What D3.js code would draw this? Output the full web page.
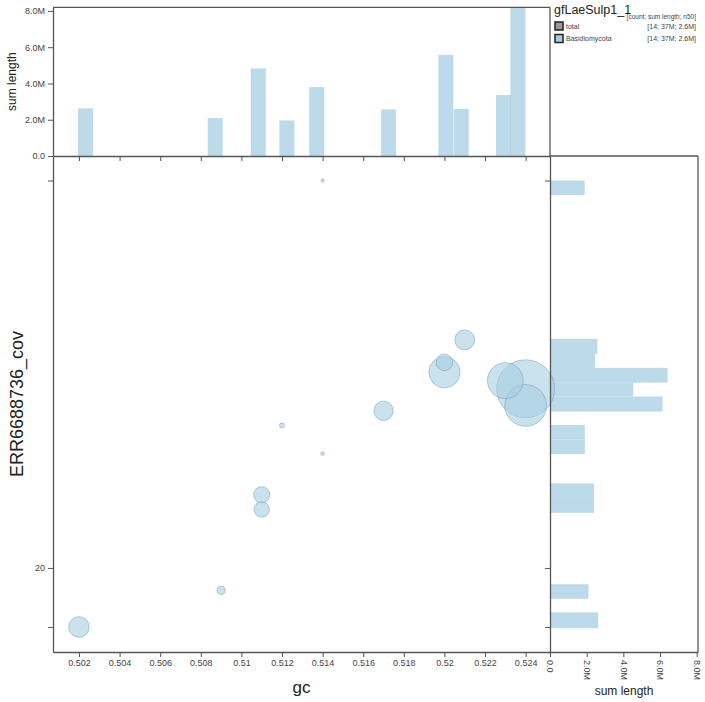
<!DOCTYPE html>
<html><head><meta charset="utf-8">
<script src="https://cdn.jsdelivr.net/npm/d3@7"></script>
<style>
html,body{margin:0;padding:0;background:#fff;}
text{font-family:"Liberation Sans",Arial,sans-serif;}
</style></head>
<body><svg id="c" width="705" height="702"></svg>
<script>
// ---- data ----
const contigGc  = [0.502, 0.509, 0.511, 0.511, 0.512, 0.514, 0.514, 0.517, 0.520, 0.520, 0.521, 0.523, 0.524, 0.524];
const contigCov = [14.5, 17.7, 27.5, 29.8, 43.5, 37.3, 165.2, 47.1, 58.1, 61.3, 69.3, 55.5, 53.1, 48.5];
const contigLen = [2.63, 2.09, 2.40, 2.43, 1.96, 1.90, 1.89, 2.57, 3.13, 2.45, 2.60, 3.36, 4.54, 3.66]; // Mbp

const topBinGc  = [0.50195, 0.50834, 0.51046, 0.51187, 0.51334, 0.51688, 0.51970, 0.52046, 0.52254, 0.52325];
const topBinLen = [2.63, 2.09, 4.83, 1.96, 3.80, 2.57, 5.58, 2.60, 3.36, 8.20];
const topBinWidth = 0.00074;

const rightBinLo  = [152.6, 64.2, 59.5, 54.9, 50.9, 46.9, 40.3, 37.2, 29.3, 27.0, 16.9, 14.4];
const rightBinHi  = [165.2, 69.7, 64.2, 59.5, 54.9, 50.9, 43.6, 40.3, 31.7, 29.3, 18.3, 15.7];
const rightBinLen = [1.89, 2.58, 2.45, 6.41, 4.54, 6.14, 1.90, 1.90, 2.40, 2.40, 2.10, 2.62];

const xTicks = [0.502, 0.504, 0.506, 0.508, 0.510, 0.512, 0.514, 0.516, 0.518, 0.520, 0.522, 0.524];
const yTicks = [14.5, 20, 165.2];
const yTickLabels = ["", "20", ""];
const lenTicks = [0, 2, 4, 6, 8];

const legendTitle = "gfLaeSulp1_1";
const legendHeader = "[count; sum length; n50]";
const legendNames = ["total", "Basidiomycota"];
const legendStats = ["[14; 37M; 2.6M]", "[14; 37M; 2.6M]"];
const legendColors = ["#999999", "#a6cee3"];

// ---- layout ----
const X0 = 53, X1 = 550, Y0 = 156, Y1 = 652, TOP = 7.3, RIGHT = 698;
const blue = "#a6cee3", axisCol = "#555", txtCol = "#444";

const svg = d3.select("#c");
const x = d3.scaleLinear().domain([0.50072, 0.5252]).range([X0, X1]);
const y = d3.scaleLog().domain([12.65, 188.8]).range([Y1, Y0]);
const yTop = d3.scaleLinear().domain([0, 8.2]).range([Y0, TOP]);
const xRight = d3.scaleLinear().domain([0, 8.07]).range([X1, RIGHT]);
const r = d3.scalePow().exponent(0.6).domain([1.88, 4.54]).range([1.5, 29]);
const lenFmt = v => v === 0 ? "0.0" : v.toFixed(1) + "M";

// ---- top histogram ----
svg.append("g").selectAll("rect").data(topBinGc).join("rect")
  .attr("x", d => x(d)).attr("width", (d) => x(d + topBinWidth) - x(d))
  .attr("y", (d, i) => yTop(topBinLen[i])).attr("height", (d, i) => Y0 - yTop(topBinLen[i]))
  .attr("fill", blue).attr("fill-opacity", 0.75);

// ---- right histogram ----
svg.append("g").selectAll("rect").data(rightBinLo).join("rect")
  .attr("x", X1).attr("width", (d, i) => xRight(rightBinLen[i]) - X1)
  .attr("y", (d, i) => y(rightBinHi[i])).attr("height", (d, i) => y(d) - y(rightBinHi[i]))
  .attr("fill", blue).attr("fill-opacity", 0.75);

// ---- scatter ----
const idx = d3.range(contigGc.length).sort((a, b) => contigLen[b] - contigLen[a]);
svg.append("g").selectAll("circle").data(idx).join("circle")
  .attr("cx", i => x(contigGc[i])).attr("cy", i => y(contigCov[i])).attr("r", i => r(contigLen[i]))
  .attr("fill", blue).attr("fill-opacity", 0.6)
  .attr("stroke", "#6f95ad").attr("stroke-opacity", 0.6).attr("stroke-width", 0.8);

// ---- frames ----
const frame = svg.append("g").attr("fill", "none").attr("stroke", axisCol).attr("stroke-width", 1.3);
frame.append("line").attr("x1", X0).attr("x2", X1).attr("y1", TOP).attr("y2", TOP);
frame.append("line").attr("x1", X1).attr("x2", X1).attr("y1", TOP).attr("y2", Y0);
frame.append("line").attr("x1", X1).attr("x2", RIGHT).attr("y1", Y0).attr("y2", Y0);
frame.append("line").attr("x1", RIGHT).attr("x2", RIGHT).attr("y1", Y0).attr("y2", Y1);

function styleAxis(g) {
  g.selectAll(".domain").attr("stroke", axisCol).attr("stroke-width", 1.3);
  g.selectAll(".tick line").attr("stroke", axisCol);
  g.selectAll(".tick text").attr("fill", txtCol).style("font-size", "9px").style("font-family", "Liberation Sans, Arial, sans-serif");
}

// main x axis
svg.append("g").attr("transform", `translate(0,${Y1})`)
  .call(d3.axisBottom(x).tickValues(xTicks).tickFormat(d => String(+d.toFixed(3))).tickSize(5).tickSizeOuter(0))
  .call(styleAxis);
// main y axis
svg.append("g").attr("transform", `translate(${X0},0)`)
  .call(d3.axisLeft(y).tickValues(yTicks).tickFormat((d, i) => yTickLabels[i]).tickSize(5).tickSizeOuter(0))
  .call(styleAxis);
// top histogram axes
svg.append("g").attr("transform", `translate(0,${Y0})`)
  .call(d3.axisBottom(x).tickValues(xTicks).tickFormat("").tickSize(5).tickSizeOuter(0))
  .call(styleAxis);
svg.append("g").attr("transform", `translate(${X0},0)`)
  .call(d3.axisLeft(yTop).tickValues(lenTicks).tickFormat(lenFmt).tickSize(5).tickSizeOuter(0))
  .call(styleAxis);
// right histogram axes
svg.append("g").attr("transform", `translate(${X1},0)`)
  .call(d3.axisLeft(y).tickValues(yTicks).tickFormat("").tickSize(5).tickSizeOuter(0))
  .call(styleAxis);
const rAx = svg.append("g").attr("transform", `translate(0,${Y1})`)
  .call(d3.axisBottom(xRight).tickValues(lenTicks).tickFormat(lenFmt).tickSize(5).tickSizeOuter(0))
  .call(styleAxis);
rAx.selectAll(".tick text").attr("transform", "rotate(90)").attr("text-anchor", "start")
  .attr("x", 8).attr("y", 0).attr("dy", "0.35em");

// ---- titles ----
svg.append("text").attr("x", (X0 + X1) / 2).attr("y", 693).attr("text-anchor", "middle")
  .style("font-size", "17px").attr("fill", "#222").text("gc");
svg.append("text").attr("transform", `translate(23,${(Y0 + Y1) / 2}) rotate(-90)`).attr("text-anchor", "middle")
  .style("font-size", "18px").attr("fill", "#222").text("ERR6688736_cov");
svg.append("text").attr("transform", `translate(16,${(TOP + Y0) / 2}) rotate(-90)`).attr("text-anchor", "middle")
  .style("font-size", "12px").attr("fill", "#222").text("sum length");
svg.append("text").attr("x", (X1 + RIGHT) / 2).attr("y", 695).attr("text-anchor", "middle")
  .style("font-size", "12px").attr("fill", "#222").text("sum length");

// ---- legend ----
const lg = svg.append("g");
lg.append("text").attr("x", 554).attr("y", 14).style("font-size", "12.5px").attr("fill", "#222").text(legendTitle);
lg.append("text").attr("x", 696).attr("y", 18.5).attr("text-anchor", "end").style("font-size", "6.5px").attr("fill", txtCol).text(legendHeader);
legendNames.forEach((n, i) => {
  const yy = 22 + i * 12.5;
  lg.append("rect").attr("x", 555).attr("y", yy).attr("width", 8).attr("height", 8)
    .attr("fill", legendColors[i]).attr("stroke", "#222").attr("stroke-width", 1.5);
  lg.append("text").attr("x", 566).attr("y", yy + 6.5).style("font-size", "7px").attr("fill", txtCol).text(n);
  lg.append("text").attr("x", 696).attr("y", yy + 6.5).attr("text-anchor", "end").style("font-size", "7px").attr("fill", txtCol).text(legendStats[i]);
});
</script></body></html>
